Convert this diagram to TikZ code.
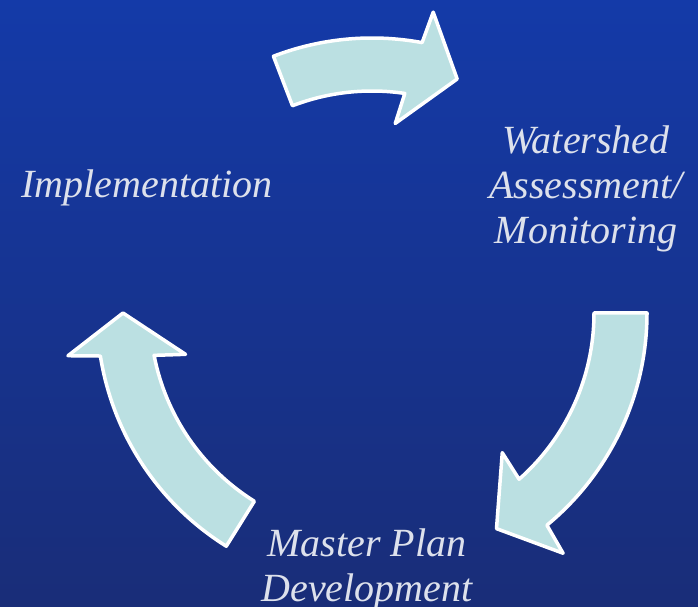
\documentclass[tikz,border=0pt]{standalone}
\usepackage{fontspec}
\setmainfont{Liberation Serif}
\definecolor{bgtop}{RGB}{20,58,168}
\definecolor{bgbottom}{RGB}{25,45,120}
\definecolor{arrowfill}{RGB}{187,224,226}
\definecolor{labeltext}{RGB}{221,225,236}

\newcommand\arcout{275pt}
\newcommand\arcin{222pt}
\newcommand\arcmid{249pt}
\newcommand\barbout{307pt}
\newcommand\barbin{191pt}
\newcommand\cyclearrow[3]{
  \draw[cyclestep] (#1:\arcout)
    arc[start angle=#1, end angle=#2-1, radius=\arcout]
    -- (#2-2:\barbout) -- (#3:\arcmid) -- (#2+2.5:\barbin)
    -- (#2+1:\arcin)
    arc[start angle=#2+1, end angle=#1, radius=\arcin] -- cycle;
}

\begin{document}
\begin{tikzpicture}[
    cyclestep/.style={draw=white,line width=3.5pt,line join=round,fill=arrowfill},
    cyclelabel/.style={text=labeltext,inner sep=0pt,align=center,
      font=\itshape\fontsize{40}{45}\selectfont}
  ]
    \useasboundingbox (0,0) rectangle (698pt,607pt);
    \shade[top color=bgtop,bottom color=bgbottom] (0,0) rectangle (698pt,607pt);

    \path (372pt,294pt) coordinate (C);

    \begin{scope}[shift={(C)}]
      \cyclearrow{111}{80.5}{70}
      \cyclearrow{0}{-49.5}{-60}
      \cyclearrow{238}{190}{180}
    \end{scope}

    \node[cyclelabel] (assessment) at (586pt,418pt) {Watershed\\Assessment/\\Monitoring};
    \node[cyclelabel,anchor=base] (implementation) at (147pt,409pt) {Implementation};
    \node[cyclelabel] (masterplan) at (367pt,38pt) {Master Plan\\Development};
  \end{tikzpicture}
\end{document}
